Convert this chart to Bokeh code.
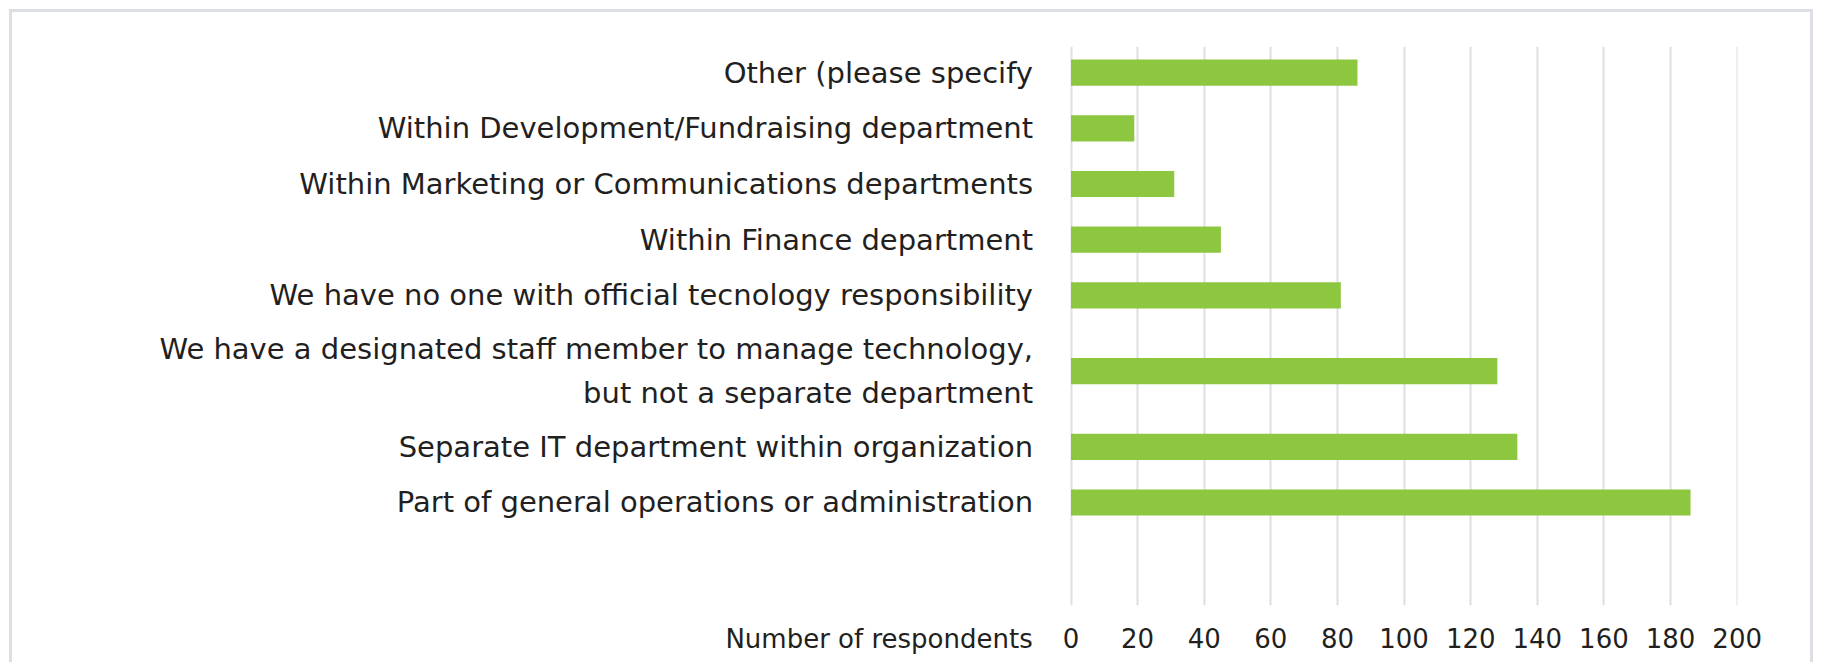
from bokeh.plotting import figure
from bokeh.models import Range1d, FixedTicker
from bokeh.embed import file_html
from bokeh.resources import INLINE
from bokeh.core.properties import value

# ---- data ----
categories = [
    "Other (please specify",
    "Within Development/Fundraising department",
    "Within Marketing or Communications departments",
    "Within Finance department",
    "We have no one with official tecnology responsibility",
    "We have a designated staff member to manage technology,\nbut not a separate department",
    "Separate IT department within organization",
    "Part of general operations or administration",
]
counts = [86, 19, 31, 45, 81, 128, 134, 186]
x_ticks = [0, 20, 40, 60, 80, 100, 120, 140, 160, 180, 200]
x_title = "Number of respondents"

# ---- layout helpers (vertical slots grow with number of label lines) ----
slot = [1 + 0.72 * c.count("\n") for c in categories]
centers = []
for i, h in enumerate(slot):
    centers.append(0.0 if i == 0 else centers[-1] + (slot[i - 1] + h) / 2)

FONT = "DejaVu Sans"
TXT = "#231f20"
GRID = "#dcdfe4"
GREEN = "#8dc63f"

PX_PER_UNIT = 3.331
LABEL_GAP_PX = 38
title_tick = -(LABEL_GAP_PX + 154) / PX_PER_UNIT  # centre of the axis-title text

p = figure(
    width=1804, height=653,
    x_range=Range1d(-317.8, 200.1),
    y_range=Range1d(centers[-1] + 1.85, centers[0] - 0.47),
    output_backend="svg", toolbar_location=None,
    min_border_left=0, min_border_right=79,
    min_border_top=34, min_border_bottom=60,
)
p.styles = {"border-top": f"3px solid {GRID}", "border-left": f"3px solid {GRID}",
            "border-right": f"3px solid {GRID}",
            "margin-left": "9px", "margin-top": "9px"}
p.outline_line_color = None
p.background_fill_color = "white"
p.border_fill_color = "white"

p.hbar(y=centers, right=counts, left=0, height=0.47, fill_color=GREEN,
       line_color=None)

# category labels, right-aligned just left of the zero line
p.text(x=[0] * len(categories), y=centers, text=categories,
       x_offset=-LABEL_GAP_PX, text_align="right", text_baseline="middle",
       text_font=value(FONT), text_font_size="29px", text_color=TXT,
       text_line_height=1.3)

# x axis (ticks 0..200 plus the axis title on the same row)
p.xaxis.ticker = FixedTicker(ticks=[title_tick] + x_ticks)
p.xaxis.major_label_overrides = {title_tick: x_title}
p.xaxis.axis_line_color = None
p.xaxis.major_tick_line_color = None
p.xaxis.minor_tick_line_color = None
p.xaxis.major_tick_out = 0
p.xaxis.major_label_standoff = 18
p.xaxis.major_label_text_font = FONT
p.xaxis.major_label_text_font_size = "26px"
p.xaxis.major_label_text_color = TXT

p.yaxis.visible = False

p.xgrid.ticker = FixedTicker(ticks=x_ticks)
p.xgrid.grid_line_color = GRID
p.xgrid.grid_line_width = 2
p.ygrid.grid_line_color = None

open("out.html", "w").write(file_html(p, INLINE))
